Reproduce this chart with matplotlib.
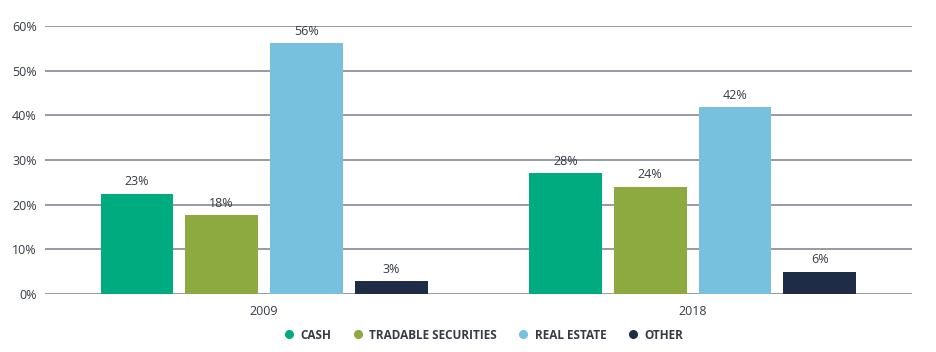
import numpy as np
import matplotlib
matplotlib.use("Agg")
import matplotlib.pyplot as plt
from matplotlib.lines import Line2D

years = ["2009", "2018"]
series = ["CASH", "TRADABLE SECURITIES", "REAL ESTATE", "OTHER"]
# bar heights as drawn (percent) and the printed labels
cash = [22.4, 27.0]
tradable = [17.6, 24.0]
real_estate = [56.1, 41.8]
other = [2.8, 5.0]
labels = [["23%", "28%"], ["18%", "24%"], ["56%", "42%"], ["3%", "6%"]]
yticks = [0, 10, 20, 30, 40, 50, 60]

colors = ["#00ab7f", "#8caa3f", "#78c1de", "#1e2d45"]
text_c = "#363b46"
grid_c = "#8d939c"

plt.rcParams["font.family"] = ["Open Sans", "DejaVu Sans"]

fig = plt.figure(figsize=(9.36, 3.52), dpi=100)
ax = fig.add_axes([0.0481, 0.1648, 0.9263, 0.7613])

x = np.arange(len(years))
pitch = 0.1977
width = 0.170
values = [cash, tradable, real_estate, other]
for i, (vals, col) in enumerate(zip(values, colors)):
    pos = x + (i - 1.5) * pitch
    bars = ax.bar(pos, vals, width, color=col, zorder=3)
    for b, lab in zip(bars, labels[i]):
        ax.annotate(lab, (b.get_x() + b.get_width() / 2, b.get_height()),
                    xytext=(0, 4), textcoords="offset points",
                    ha="center", va="bottom", fontsize=9, color=text_c)

ax.set_xlim(-0.511, 1.512)
ax.set_ylim(0, 60)
ax.set_yticks(yticks)
ax.set_yticklabels([f"{t}%" for t in yticks])
ax.set_xticks(x)
ax.set_xticklabels(years)
ax.tick_params(axis="both", length=0, labelsize=9, colors=text_c)
ax.tick_params(axis="y", pad=6)
ax.tick_params(axis="x", pad=8)
ax.yaxis.grid(True, color=grid_c, linewidth=1.3, zorder=0)
ax.set_axisbelow(True)
for s in ax.spines.values():
    s.set_visible(False)

handles = [Line2D([], [], marker="o", linestyle="none", markersize=5.5,
                  markerfacecolor=c, markeredgecolor=c) for c in colors]
fig.legend(handles, series, loc="center", bbox_to_anchor=(0.513, 0.048),
           ncol=4, frameon=False, handletextpad=0.0, columnspacing=1.2,
           prop={"size": 8.5, "weight": "bold"}, labelcolor=text_c)

fig.savefig("out.png", dpi=100)
